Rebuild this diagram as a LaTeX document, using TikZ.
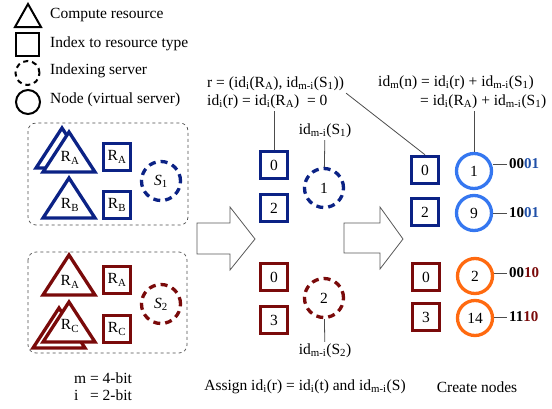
\documentclass[tikz,border=0pt]{standalone}
\usepackage{fontspec}
\setmainfont{Liberation Serif}
\usepackage{xcolor}
\usepackage{tikz}
\usetikzlibrary{positioning,calc}
\definecolor{idnavy}{HTML}{0B2285}
\definecolor{idred}{HTML}{7A0A0A}
\definecolor{idsky}{HTML}{3577F0}
\definecolor{idorange}{HTML}{FF6A10}
\definecolor{idbits}{HTML}{2050A8}

\begin{document}
\begin{tikzpicture}[x=1pt,y=-1pt,font=\fontsize{15.5}{17}\selectfont,inner sep=2pt,
  res/.style={draw=#1,line width=3.5pt,minimum size=27pt,inner sep=0pt,fill=white},
  srv/.style={draw=#1,line width=3.3pt,dash pattern=on 7pt off 5pt,circle,minimum size=39pt,inner sep=0pt},
  vnode/.style={draw=#1,line width=3.3pt,circle,minimum size=35pt,inner sep=0pt},
  tri/.style={draw=#1,line width=3.3pt,fill=white,line join=miter},
  grp/.style={draw=black!70,dashed,rounded corners=8pt,line width=0.7pt},
  link/.style={draw=black!70,line width=0.8pt},
  bigarrow/.style={draw=black!65,line width=0.8pt,fill=white}]
  \useasboundingbox (0,0) rectangle (552,408);

  % legend
  \draw[line width=2pt,line join=miter] (28,4) -- (41,27) -- (15,27) -- cycle;
  \node[draw,line width=2pt,minimum size=23pt,inner sep=0pt] (legsq) at (27.5,44.5) {};
  \node[draw,circle,line width=2pt,dash pattern=on 5pt off 4pt,minimum size=24pt,inner sep=0pt] (legsrv) at (27.5,73) {};
  \node[draw,circle,line width=2pt,minimum size=24pt,inner sep=0pt] (legvn) at (28,102) {};
  \foreach \y/\txt in {15/{Compute resource},44/{Index to resource type},71/{Indexing server},100/{Node (virtual server)}}
    \node[anchor=west] at (48,\y) {\txt};

  % resource groups
  \draw[grp] (28,123) rectangle (188,225);
  \draw[grp] (28,252) rectangle (187,353);
  \foreach \ax/\ay/\c in {62/128/idnavy,69/132/idnavy,69/178/idnavy,69/255/idred,59/308/idred,69/302/idred}
    \draw[tri=\c] (\ax,\ay) -- ++(26,40) -- ++(-52,0) -- cycle;
  \node (tA1) at (70,158) {R\textsubscript{A}};
  \node (tB1) at (70,205) {R\textsubscript{B}};
  \node (tA2) at (70,282) {R\textsubscript{A}};
  \node (tC2) at (70,326) {R\textsubscript{C}};
  \node[res=idnavy] (kA1) at (117,157) {R\textsubscript{A}};
  \node[res=idnavy] (kB1) at (117,205) {R\textsubscript{B}};
  \node[res=idred] (kA2) at (117,280) {R\textsubscript{A}};
  \node[res=idred] (kC2) at (117,329) {R\textsubscript{C}};
  \node[srv=idnavy] (S1) at (161,181) {\textit{S}\textsubscript{1}};
  \node[srv=idred] (S2) at (161,304) {\textit{S}\textsubscript{2}};
  \node (mbits) at (103,389) {\begin{tabular}{@{}l@{ }l@{}}m & = 4-bit\\ i & = 2-bit\end{tabular}};

  % assign step
  \draw[bigarrow] (197,223) -- (230,223) -- (230,207) -- (255,239) -- (230,270) -- (230,254) -- (197,254) -- cycle;
  \node[anchor=west] (rdef) at (205,84) {r = (id\textsubscript{i}(R\textsubscript{A}), id\textsubscript{m-i}(S\textsubscript{1}))};
  \node[anchor=west] (rval) at (205,102) {id\textsubscript{i}(r) = id\textsubscript{i}(R\textsubscript{A})\ \ = 0};
  \node[res=idnavy] (mA0) at (274,165) {0};
  \node[res=idnavy] (mA2) at (274,208) {2};
  \node[res=idred] (mC0) at (274,277) {0};
  \node[res=idred] (mC3) at (274,320) {3};
  \node[srv=idnavy] (ms1) at (324,188) {1};
  \node[srv=idred] (ms2) at (324,298) {2};
  \node (sA) at (325,131) {id\textsubscript{m-i}(S\textsubscript{1})};
  \node (sB) at (325,351) {id\textsubscript{m-i}(S\textsubscript{2})};
  \draw[link] (rval.south -| mA0) -- (mA0.north);
  \draw[link] (sA) -- (ms1);
  \draw[link] (ms2) -- (sB);
  \node (assign) at (305,387) {Assign id\textsubscript{i}(r) = id\textsubscript{i}(t) and id\textsubscript{m-i}(S)};

  % create step
  \draw[bigarrow] (344,223) -- (380,223) -- (380,207) -- (403,239) -- (380,269) -- (380,253) -- (344,253) -- cycle;
  \node[anchor=west] (nf1) at (376,83) {id\textsubscript{m}(n) = id\textsubscript{i}(r) + id\textsubscript{m-i}(S\textsubscript{1})};
  \node[anchor=west] (nf2) at (418,102) {= id\textsubscript{i}(R\textsubscript{A}) + id\textsubscript{m-i}(S\textsubscript{1})};
  \node[res=idnavy] (nA0) at (425,170) {0};
  \node[res=idnavy] (nA2) at (425,212) {2};
  \node[res=idred] (nC0) at (426,277) {0};
  \node[res=idred] (nC3) at (426,317) {3};
  \node[vnode=idsky] (n1) at (474,171) {1};
  \node[vnode=idsky] (n9) at (474,213) {9};
  \node[vnode=idorange] (n2) at (475,276) {2};
  \node[vnode=idorange] (n14) at (475,318) {14};
  \node[anchor=west,font=\fontsize{15}{17}\selectfont\bfseries] (b1) at (507,164) {00\textcolor{idbits}{01}};
  \node[anchor=west,font=\fontsize{15}{17}\selectfont\bfseries] (b9) at (507,213) {10\textcolor{idbits}{01}};
  \node[anchor=west,font=\fontsize{15}{17}\selectfont\bfseries] (b2) at (507,273) {00\textcolor{idred}{10}};
  \node[anchor=west,font=\fontsize{15}{17}\selectfont\bfseries] (b14) at (507,317) {11\textcolor{idred}{10}};
  \draw[link] (rdef.south east) -- (nA0.north);
  \draw[link] (nf2.south -| n1) -- (n1.north);
  \foreach \n/\b in {n1/b1,n9/b9,n2/b2,n14/b14}
    \draw[link] (\b.west -| \n.east) -- (\b.west);
  \node (create) at (477,387) {Create nodes};
\end{tikzpicture}
\end{document}
